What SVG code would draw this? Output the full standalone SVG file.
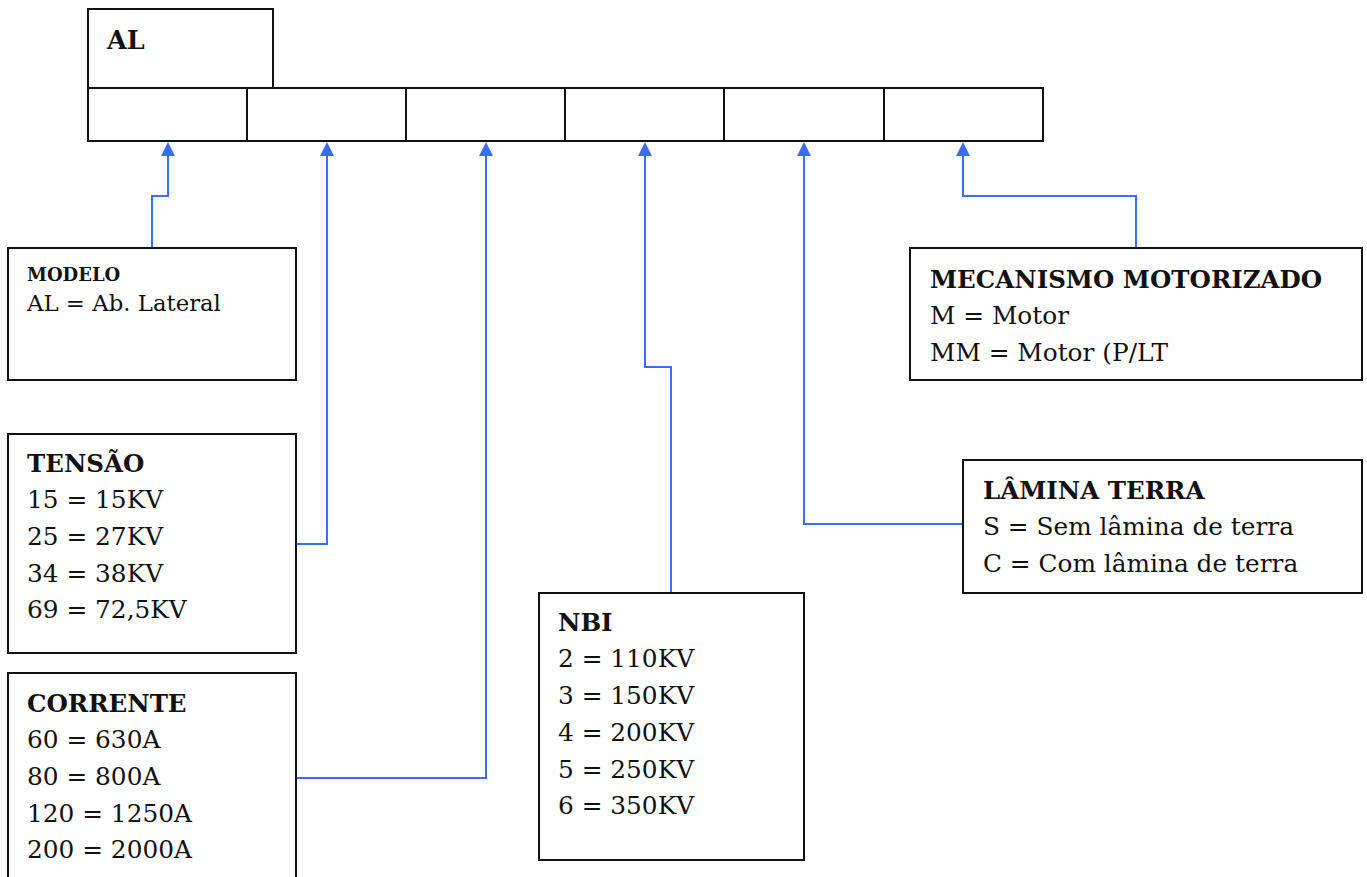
<svg xmlns="http://www.w3.org/2000/svg" width="1367" height="877" viewBox="0 0 1367 877">
<style>
.box{fill:#fff;stroke:#111;stroke-width:2}
.t{font-family:"DejaVu Serif","Liberation Serif",serif;font-size:24.8px;fill:#111}
.b{font-weight:bold;font-size:24.5px}
.c{fill:none;stroke:#3a6cf4;stroke-width:2}
.ah{fill:#3a6cf4}
</style>
<rect width="1367" height="877" fill="#fff"/>
<g id="header">
<rect class="box" x="88" y="9" width="185" height="79"/>
<text class="t b" x="107" y="49" style="font-size:25.5px">AL</text>
<rect class="box" x="88" y="88" width="159" height="53"/>
<rect class="box" x="247" y="88" width="159" height="53"/>
<rect class="box" x="406" y="88" width="159" height="53"/>
<rect class="box" x="565" y="88" width="159" height="53"/>
<rect class="box" x="724" y="88" width="160" height="53"/>
<rect class="box" x="884" y="88" width="159" height="53"/>
</g>
<g id="connectors">
<path class="c" d="M152,248 V196 H168 V155"/>
<path class="ah" d="M161,156 L168,142 L175,156 Z"/>
<path class="c" d="M296,544 H327 V155"/>
<path class="ah" d="M320,156 L327,142 L334,156 Z"/>
<path class="c" d="M296,778 H486 V155"/>
<path class="ah" d="M479,156 L486,142 L493,156 Z"/>
<path class="c" d="M671,593 V367 H645 V155"/>
<path class="ah" d="M638,156 L645,142 L652,156 Z"/>
<path class="c" d="M963,524 H804 V155"/>
<path class="ah" d="M797,156 L804,142 L811,156 Z"/>
<path class="c" d="M1136,248 V196 H963 V155"/>
<path class="ah" d="M956,156 L963,142 L970,156 Z"/>
</g>
<g id="modelo">
<rect class="box" x="8" y="248" width="288" height="132"/>
<text class="t b" x="27" y="281" style="font-size:18px">MODELO</text>
<text class="t" x="27" y="311" style="font-size:22.8px">AL = Ab. Lateral</text>
</g>
<g id="tensao">
<rect class="box" x="8" y="434" width="288" height="219"/>
<text class="t b" x="27" y="472">TENSÃO</text>
<text class="t" x="27" y="508">15 = 15KV</text>
<text class="t" x="27" y="545">25 = 27KV</text>
<text class="t" x="27" y="582">34 = 38KV</text>
<text class="t" x="27" y="618">69 = 72,5KV</text>
</g>
<g id="corrente">
<rect class="box" x="8" y="673" width="288" height="210"/>
<text class="t b" x="27" y="712">CORRENTE</text>
<text class="t" x="27" y="748">60 = 630A</text>
<text class="t" x="27" y="785">80 = 800A</text>
<text class="t" x="27" y="822">120 = 1250A</text>
<text class="t" x="27" y="858">200 = 2000A</text>
</g>
<g id="nbi">
<rect class="box" x="539" y="593" width="265" height="267"/>
<text class="t b" x="558" y="631">NBI</text>
<text class="t" x="558" y="667">2 = 110KV</text>
<text class="t" x="558" y="704">3 = 150KV</text>
<text class="t" x="558" y="741">4 = 200KV</text>
<text class="t" x="558" y="778">5 = 250KV</text>
<text class="t" x="558" y="814">6 = 350KV</text>
</g>
<g id="lamina">
<rect class="box" x="963" y="460" width="399" height="133"/>
<text class="t b" x="983" y="499">LÂMINA TERRA</text>
<text class="t" x="983" y="535">S = Sem lâmina de terra</text>
<text class="t" x="983" y="572">C = Com lâmina de terra</text>
</g>
<g id="mecanismo">
<rect class="box" x="910" y="248" width="452" height="132"/>
<text class="t b" x="930" y="288">MECANISMO MOTORIZADO</text>
<text class="t" x="930" y="324">M = Motor</text>
<text class="t" x="930" y="361">MM = Motor (P/LT</text>
</g>
</svg>
